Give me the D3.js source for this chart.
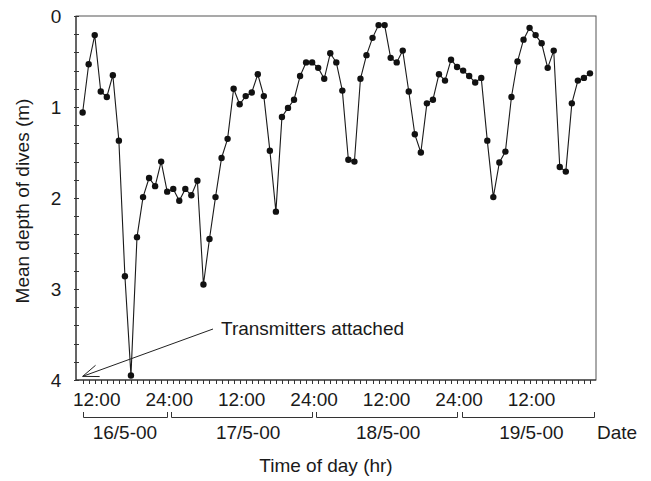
<!DOCTYPE html>
<html>
<head>
<meta charset="utf-8">
<script src="https://cdn.jsdelivr.net/npm/d3@7"></script>
<style>
  body { margin: 0; background: #fff; }
  svg text { font-family: Arial, "Liberation Sans", sans-serif; fill: #1a1a1a; }
</style>
</head>
<body>
<svg id="chart" width="651" height="481"></svg>
<script>
// hourly mean dive depth (m), first value at 10:00 on 16/5
const firstHour = 10;
const depth = [
  1.06, 0.53, 0.21, 0.83, 0.89, 0.65, 1.37, 2.86, 3.95, 2.43,
  1.99, 1.78, 1.87, 1.60, 1.93, 1.90, 2.03, 1.90, 1.97, 1.81,
  2.95, 2.45, 1.99, 1.56, 1.35, 0.80, 0.97, 0.88, 0.84, 0.64,
  0.88, 1.48, 2.15, 1.11, 1.01, 0.92, 0.66, 0.51, 0.51, 0.57,
  0.69, 0.41, 0.51, 0.82, 1.58, 1.60, 0.69, 0.43, 0.24, 0.10,
  0.10, 0.46, 0.51, 0.38, 0.83, 1.30, 1.50, 0.96, 0.92, 0.64,
  0.71, 0.48, 0.56, 0.60, 0.66, 0.73, 0.68, 1.37, 1.99, 1.61,
  1.49, 0.89, 0.50, 0.26, 0.13, 0.21, 0.30, 0.57, 0.38, 1.66,
  1.71, 0.96, 0.71, 0.68, 0.63
];
const timeTicks = [12, 24, 36, 48, 60, 72, 84];
const timeLabels = ['12:00', '24:00', '12:00', '24:00', '12:00', '24:00', '12:00'];
const dateLabels = ['16/5-00', '17/5-00', '18/5-00', '19/5-00'];
const dateStart = [10, 24.67, 48.67, 72.75];
const dateEnd = [24, 48, 72, 94.6];
const dateLabelHour = [17, 37.4, 60.6, 84.3];
const yTicks = [0, 1, 2, 3, 4];

const svg = d3.select('#chart');
const margin = {top: 16, right: 55, bottom: 101, left: 76};
const W = 651, H = 481;

const x = d3.scaleLinear().domain([8.9, 95]).range([margin.left, W - margin.right]);
const y = d3.scaleLinear().domain([0, 4]).range([margin.top, H - margin.bottom]);

const data = depth.map((d, i) => ({t: firstHour + i, v: d}));

// frame
svg.append('rect')
  .attr('x', x(8.9)).attr('y', y(0))
  .attr('width', x(95) - x(8.9)).attr('height', y(4) - y(0))
  .attr('fill', 'none').attr('stroke', '#555').attr('stroke-width', 1);
svg.append('line')
  .attr('x1', x(8.9)).attr('x2', x(8.9)).attr('y1', y(0)).attr('y2', y(4))
  .attr('stroke', '#222');
svg.append('line')
  .attr('x1', x(8.9)).attr('x2', x(95)).attr('y1', y(4)).attr('y2', y(4))
  .attr('stroke', '#222');

// y minor/major ticks
const yt = svg.append('g');
yt.selectAll('line')
  .data(d3.range(0, 4.01, 0.2))
  .join('line')
  .attr('x1', x(8.9) - 2).attr('x2', x(8.9) + 3)
  .attr('y1', d => Math.round(y(d)) + 0.5).attr('y2', d => Math.round(y(d)) + 0.5)
  .attr('stroke', '#333');
yt.selectAll('text')
  .data(yTicks)
  .join('text')
  .attr('x', 56).attr('y', d => y(d))
  .attr('dy', '0.36em')
  .attr('text-anchor', 'middle')
  .style('font-size', '19px')
  .text(d => d);

// x hourly ticks
const xt = svg.append('g');
xt.selectAll('line')
  .data(data)
  .join('line')
  .attr('x1', d => Math.round(x(d.t)) + 0.5).attr('x2', d => Math.round(x(d.t)) + 0.5)
  .attr('y1', y(4)).attr('y2', y(4) + 4)
  .attr('stroke', '#333');
xt.selectAll('text')
  .data(timeTicks)
  .join('text')
  .attr('x', d => x(d) + 2).attr('y', 406)
  .attr('text-anchor', 'middle')
  .style('font-size', '19px')
  .text((d, i) => timeLabels[i]);

// date brackets
const br = svg.append('g').attr('stroke', '#333').attr('fill', 'none');
dateLabels.forEach((lab, i) => {
  const x0 = Math.round(x(dateStart[i])) + 0.5, x1 = Math.round(x(dateEnd[i])) + 0.5;
  br.append('path').attr('d', `M${x0},412V417.5H${x1}V412`);
  svg.append('text')
    .attr('x', x(dateLabelHour[i])).attr('y', 439)
    .attr('text-anchor', 'middle')
    .style('font-size', '19px')
    .text(lab);
});
svg.append('text')
  .attr('x', 597).attr('y', 439)
  .style('font-size', '19px')
  .text('Date');

// axis titles
svg.append('text')
  .attr('x', 326).attr('y', 472)
  .attr('text-anchor', 'middle')
  .style('font-size', '19px')
  .text('Time of day (hr)');
svg.append('text')
  .attr('transform', 'translate(29,201) rotate(-90)')
  .attr('text-anchor', 'middle')
  .style('font-size', '19px')
  .text('Mean depth of dives (m)');

// series
svg.append('path')
  .datum(data)
  .attr('d', d3.line().x(d => x(d.t)).y(d => y(d.v)))
  .attr('fill', 'none')
  .attr('stroke', '#1a1a1a')
  .attr('stroke-width', 1.1);
svg.selectAll('circle.pt')
  .data(data)
  .join('circle')
  .attr('class', 'pt')
  .attr('cx', d => x(d.t)).attr('cy', d => y(d.v))
  .attr('r', 3.2)
  .attr('fill', '#111');

// annotation arrow
const tip = [x(10), y(3.96)];
const tail = [213, 329];
svg.append('line')
  .attr('x1', tail[0]).attr('y1', tail[1]).attr('x2', tip[0]).attr('y2', tip[1])
  .attr('stroke', '#222');
const ang = Math.atan2(tail[1] - tip[1], tail[0] - tip[0]);
const head = [ang - 0.36, ang + 0.36].map(a => [tip[0] + 17 * Math.cos(a), tip[1] + 17 * Math.sin(a)]);
svg.append('path')
  .attr('d', `M${head[0][0]},${head[0][1]}L${tip[0]},${tip[1]}L${head[1][0]},${head[1][1]}`)
  .attr('fill', 'none').attr('stroke', '#222');
svg.append('text')
  .attr('x', 221).attr('y', 335)
  .style('font-size', '19px')
  .text('Transmitters attached');
</script>
</body>
</html>
